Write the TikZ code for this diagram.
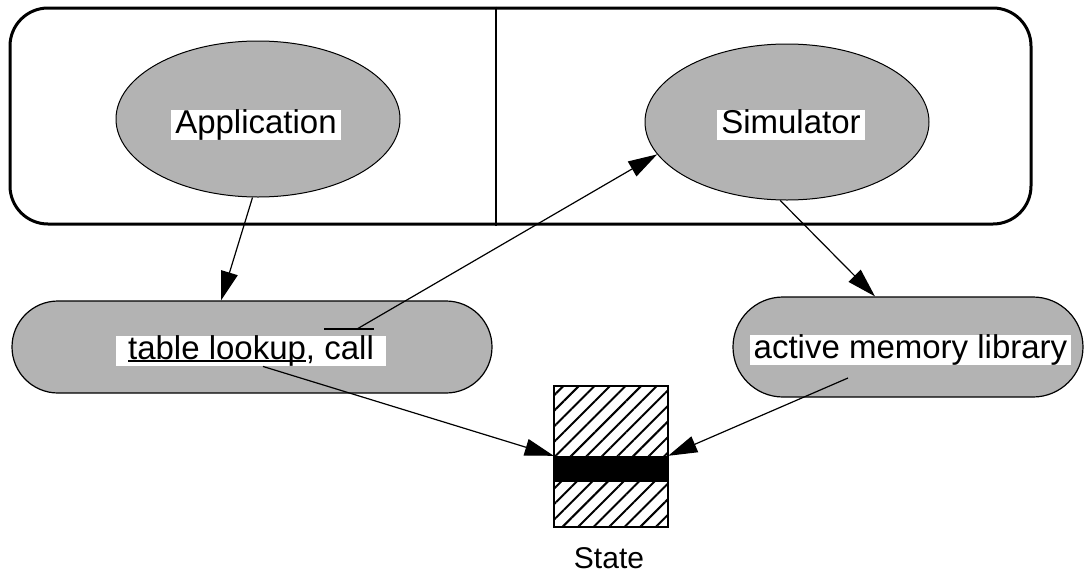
\documentclass[tikz,border=0pt]{standalone}
\usepackage{fontspec}
\setmainfont{Liberation Sans}
\usetikzlibrary{shapes.geometric,arrows.meta,patterns.meta}
\definecolor{boxgray}{RGB}{179,179,179}
\newcommand\ulinetxt[1]{\setbox0\hbox{#1}\rlap{\rule[-2.5pt]{\wd0}{1.8pt}}\box0}
\newcommand\olinetxt[1]{\setbox0\hbox{#1}\rlap{\rule[\dimexpr\ht0+6pt\relax]{\wd0}{1.8pt}}\box0}

\begin{document}
\begin{tikzpicture}[x=1pt,y=-1pt,
  every node/.style={inner sep=0pt},
  blob/.style={ellipse,draw,fill=boxgray,line width=1pt,minimum width=284pt,minimum height=156pt},
  pill/.style={draw,fill=boxgray,line width=1.2pt},
  lbl/.style={fill=white,inner xsep=4pt,text height=24pt,text depth=6.5pt,font=\fontsize{33}{39}\selectfont},
  arr/.style={line width=1.2pt,-{Triangle[length=29pt,width=17pt]}}]
\useasboundingbox (0,0) rectangle (1085,576);
\node [draw,line width=3pt,rounded corners=38pt,minimum width=1021pt,minimum height=216pt] (frame) at (520.5,116) {};
\draw [line width=2pt] ([xshift=-24.5pt]frame.north) -- ([xshift=-24.5pt]frame.south);
\node [blob] (app) at (258,119) {};
\node [blob] (sim) at (787,122) {};
\node [pill,rounded corners=46pt,minimum width=480pt,minimum height=92pt] (lookup) at (252,347) {};
\node [pill,rounded corners=50pt,minimum width=350pt,minimum height=100pt] (lib) at (908,347) {};
\node [draw,line width=1.5pt,minimum width=114pt,minimum height=141pt,
  pattern={Lines[angle=45,distance=11pt,line width=2pt]}] (state) at (611,456.5) {};
\node [fill=black,minimum width=114pt,minimum height=26pt] (band) at (611,469) {};
\node [lbl] (apptxt) at (256,125) {Application};
\node [lbl] (simtxt) at (791,125) {Simulator};
\node [lbl,inner xsep=12pt] (lookuptxt) at (251,351) {\ulinetxt{table lookup}, \olinetxt{call}};
\node [lbl] (libtxt) at (910.5,350) {active memory library};
\node [anchor=base,font=\fontsize{30}{36}\selectfont] (statetxt) at (609,568) {State};
\coordinate (callbar) at (357,329);
\coordinate (libout) at (848,378);
\draw [arr] (app.266) -- ([xshift=-31pt]lookup.north);
\draw [arr] (callbar) -- (sim.194);
\draw [arr] (sim.265) -- ([xshift=-33pt]lib.north);
\draw [arr] ([xshift=12pt]lookuptxt.south) -- (band.north west);
\draw [arr] (libout) -- (band.north east);
\end{tikzpicture}
\end{document}
